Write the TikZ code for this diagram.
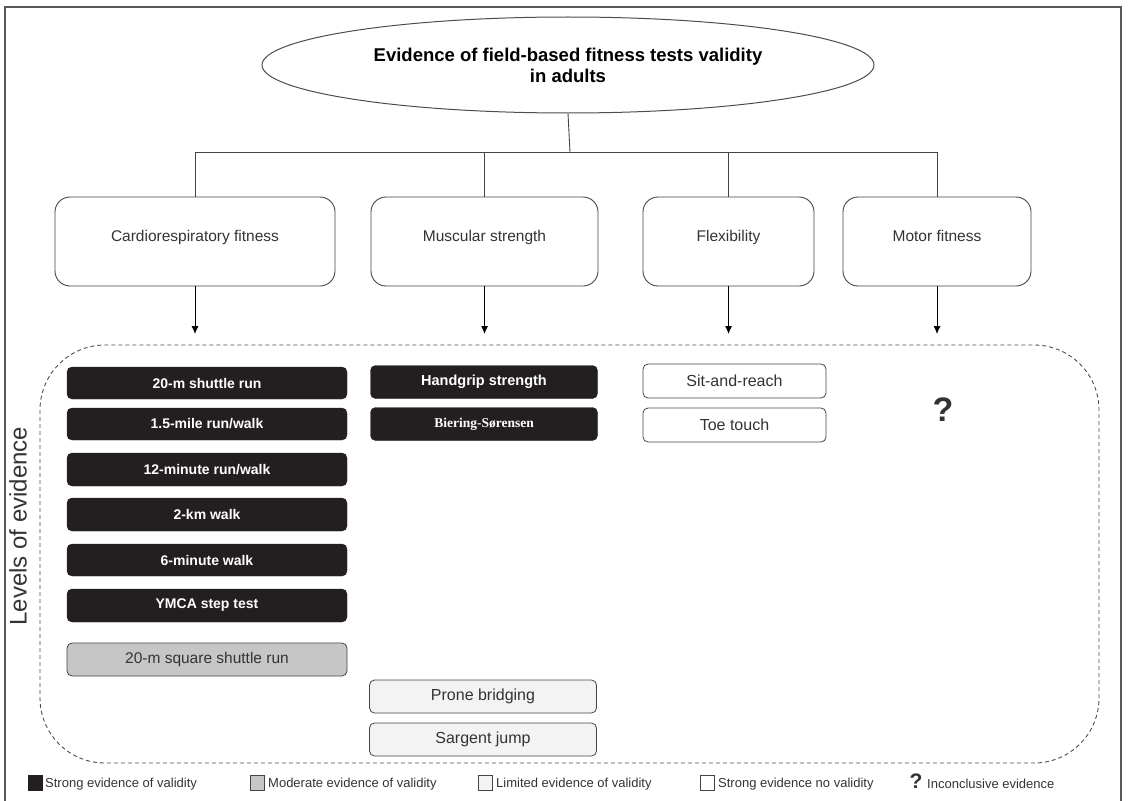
\documentclass[tikz,border=0pt]{standalone}
\usepackage{fontspec}
\setmainfont{Liberation Sans}
\newfontfamily\serifbold{Liberation Serif}
\usetikzlibrary{arrows.meta,shapes.geometric}
\definecolor{boxblack}{HTML}{231F20}
\definecolor{boxgray}{HTML}{C6C6C6}
\definecolor{boxlight}{HTML}{F3F3F3}
\definecolor{linegray}{HTML}{444444}
\definecolor{txtgray}{HTML}{333333}
\tikzset{
  catbox/.style={draw=linegray, line width=0.9pt, rounded corners=15pt, minimum height=89pt, inner sep=0pt, fill=white},
  cattext/.style={font=\fontsize{15.5}{17}\selectfont, text=txtgray, inner sep=0pt, anchor=base},
  strongbox/.style={fill=boxblack, draw=boxblack, rounded corners=5pt, inner sep=0pt, text=white, font=\bfseries\fontsize{14}{16}\selectfont},
  modbox/.style={fill=boxgray, draw=linegray, line width=0.8pt, rounded corners=5pt, inner sep=0pt, text=txtgray, font=\fontsize{15.5}{17}\selectfont},
  limbox/.style={fill=boxlight, draw=linegray, line width=0.8pt, rounded corners=5pt, inner sep=0pt, text=txtgray, font=\fontsize{16}{18}\selectfont},
  novalbox/.style={fill=white, draw=linegray, line width=0.8pt, rounded corners=5pt, inner sep=0pt, text=txtgray, font=\fontsize{16}{18}\selectfont},
  link/.style={draw=linegray, line width=0.9pt},
  arr/.style={draw=black, line width=0.9pt, -{Latex[length=8pt,width=7pt]}},
  legsq/.style={draw=linegray, line width=0.8pt, minimum width=14pt, minimum height=15pt, inner sep=0pt},
  legtext/.style={font=\fontsize{13}{15}\selectfont, text=txtgray, inner sep=0pt, anchor=west}
}
\begin{document}
\begin{tikzpicture}[x=1pt,y=-1pt]
\useasboundingbox (0,0) rectangle (1129,800);
% frame
\draw[draw=black!65, line width=1.2pt] (5,801) -- (5,7) -- (1121,7) -- (1121,801);

% title ellipse
\node[draw=black!70, line width=1pt, ellipse, minimum width=612pt, minimum height=96pt, inner sep=0pt,
      align=center, font=\bfseries\fontsize{18.5}{21}\selectfont, text=black] (title) at (568,65)
  {Evidence of field-based fitness tests validity\\in adults};

% category boxes
\node[catbox, minimum width=280pt] (cardio) at (195,241.5) {};
\node[catbox, minimum width=227pt] (musc) at (484.5,241.5) {};
\node[catbox, minimum width=171pt] (flex) at (728.5,241.5) {};
\node[catbox, minimum width=188pt] (motor) at (937,241.5) {};
\node[cattext] (cardiot) at (195,241) {Cardiorespiratory fitness};
\node[cattext] (musct) at (484.5,241) {Muscular strength};
\node[cattext] (flext) at (728.5,241) {Flexibility};
\node[cattext] (motort) at (937,241) {Motor fitness};

% tree connectors
\coordinate (hub) at (570,152);
\draw[link] (title.south) -- (hub);
\draw[link] (cardio.north) -- (cardio.north |- hub) -- (motor.north |- hub) -- (motor.north);
\draw[link] (musc.north) -- (musc.north |- hub);
\draw[link] (flex.north) -- (flex.north |- hub);

% arrows
\coordinate (ca) at (195,334);
\coordinate (ma) at (484.5,334);
\coordinate (fa) at (728.5,334);
\coordinate (moa) at (937,334);
\draw[arr] (cardio.south) -- (ca);
\draw[arr] (musc.south) -- (ma);
\draw[arr] (flex.south) -- (fa);
\draw[arr] (motor.south) -- (moa);

% dashed region
\draw[draw=black!70, line width=0.9pt, dash pattern=on 4pt off 3pt, rounded corners=65pt] (40,345) rectangle (1099,763);

% levels of evidence label
\node[rotate=90, font=\fontsize{24}{26}\selectfont, text=txtgray, inner sep=0pt] (levels) at (18,526) {Levels of evidence};

% cardio tests
\node[strongbox, minimum width=280pt, minimum height=32pt] (c1) at (207,383) {20-m shuttle run};
\node[strongbox, minimum width=280pt, minimum height=32pt] (c2) at (207,424) {1.5-mile run/walk};
\node[strongbox, minimum width=280pt, minimum height=33pt] (c3) at (207,469.5) {12-minute run/walk};
\node[strongbox, minimum width=280pt, minimum height=33pt] (c4) at (207,514.5) {2-km walk};
\node[strongbox, minimum width=280pt, minimum height=32pt] (c5) at (207,560) {6-minute walk};
\node[strongbox, minimum width=280pt, minimum height=33pt] (c6) at (207,605.5) {YMCA step test};
\node[modbox, minimum width=280pt, minimum height=33pt] (c7) at (207,659.5) {20-m square shuttle run};

% muscular tests
\node[strongbox, minimum width=227pt, minimum height=33pt, font=\bfseries\fontsize{14.5}{16}\selectfont] (m1) at (484,382) {Handgrip strength};
\node[strongbox, minimum width=227pt, minimum height=33pt, font=\serifbold\bfseries\fontsize{13.5}{16}\selectfont] (m2) at (484,424) {Biering-Sørensen};
\node[limbox, minimum width=227pt, minimum height=33pt] (m3) at (483,696.5) {Prone bridging};
\node[limbox, minimum width=227pt, minimum height=33pt] (m4) at (483,739.5) {Sargent jump};

% flexibility tests
\node[novalbox, minimum width=183pt, minimum height=34pt] (f1) at (734.5,381) {Sit-and-reach};
\node[novalbox, minimum width=183pt, minimum height=34pt] (f2) at (734.5,425) {Toe touch};

% motor fitness
\node[font=\bfseries\fontsize{34}{36}\selectfont, text=txtgray, inner sep=0pt] (q) at (943,410) {?};

% legend
\node[legsq, fill=boxblack, draw=boxblack] (l1) at (35,783) {};
\node[legtext] (l1t) at (45,784) {Strong evidence of validity};
\node[legsq, fill=boxgray] (l2) at (257,783) {};
\node[legtext] (l2t) at (268,784) {Moderate evidence of validity};
\node[legsq, fill=boxlight] (l3) at (485,783) {};
\node[legtext] (l3t) at (496,784) {Limited evidence of validity};
\node[legsq, fill=white] (l4) at (707,783) {};
\node[legtext] (l4t) at (718,784) {Strong evidence no validity};
\node[font=\bfseries\fontsize{21}{22}\selectfont, text=txtgray, inner sep=0pt] (lq) at (916,781) {?};
\node[legtext] (l5t) at (927,784) {Inconclusive evidence};
\end{tikzpicture}
\end{document}
